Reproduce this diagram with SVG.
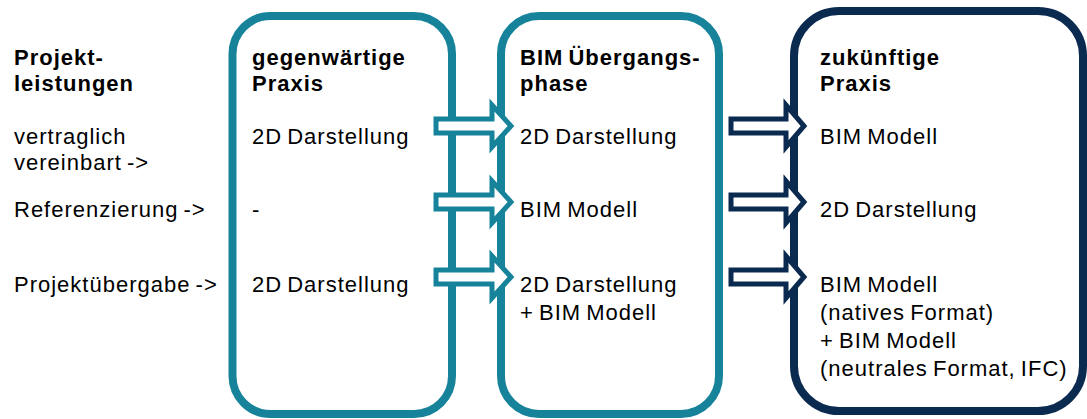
<svg xmlns="http://www.w3.org/2000/svg" width="1087" height="419" viewBox="0 0 1087 419">
<style>
text{font-family:"Liberation Sans",Arial,sans-serif;font-size:22px;fill:#000;letter-spacing:1px;word-spacing:-2px}
.b{font-weight:bold}
.box{fill:#fff;stroke-width:8}
.teal{stroke:#17839a}
.navy{stroke:#0b2a50}
.arr{fill:#fff;stroke-width:5;stroke-linejoin:miter}
</style>
<rect width="1087" height="419" fill="#fff"/>
<g id="labels">
<text class="b" x="14" y="65">Projekt-</text>
<text class="b" x="14" y="91">leistungen</text>
<text x="14" y="144">vertraglich</text>
<text x="14" y="170">vereinbart -&gt;</text>
<text x="14" y="217">Referenzierung -&gt;</text>
<text x="14" y="292">Projektübergabe -&gt;</text>
</g>
<g id="box-gegenwaertig">
<rect class="box teal" x="232.5" y="16" width="219.5" height="398" rx="38"/>
<text class="b" x="252" y="65">gegenwärtige</text>
<text class="b" x="252" y="91">Praxis</text>
<text x="252" y="144">2D Darstellung</text>
<text x="252" y="217">-</text>
<text x="252" y="292">2D Darstellung</text>
</g>
<g id="box-uebergang">
<rect class="box teal" x="501" y="16" width="218" height="398" rx="38"/>
<text class="b" x="520" y="65">BIM Übergangs-</text>
<text class="b" x="520" y="91">phase</text>
<text x="520" y="144">2D Darstellung</text>
<text x="520" y="217">BIM Modell</text>
<text x="520" y="292">2D Darstellung</text>
<text x="520" y="320">+ BIM Modell</text>
</g>
<g id="box-zukuenftig">
<rect class="box navy" x="794" y="11" width="289" height="400" rx="45"/>
<text class="b" x="820" y="65">zukünftige</text>
<text class="b" x="820" y="91">Praxis</text>
<text x="820" y="144">BIM Modell</text>
<text x="820" y="217">2D Darstellung</text>
<text x="820" y="292">BIM Modell</text>
<text x="820" y="320">(natives Format)</text>
<text x="820" y="348">+ BIM Modell</text>
<text x="820" y="376">(neutrales Format, IFC)</text>
</g>
<defs>
<polygon id="arrT" points="0,-7 56,-7 56,-21 75,0 56,21 56,7 0,7"/>
<polygon id="arrN" points="0,-7 55,-7 55,-21 73,0 55,21 55,7 0,7"/>
</defs>
<g id="connectors">
<use href="#arrT" class="arr teal" x="436" y="126"/>
<use href="#arrT" class="arr teal" x="436" y="202"/>
<use href="#arrT" class="arr teal" x="436" y="277"/>
<use href="#arrN" class="arr navy" x="731" y="126"/>
<use href="#arrN" class="arr navy" x="731" y="202"/>
<use href="#arrN" class="arr navy" x="731" y="277"/>
</g>
</svg>
